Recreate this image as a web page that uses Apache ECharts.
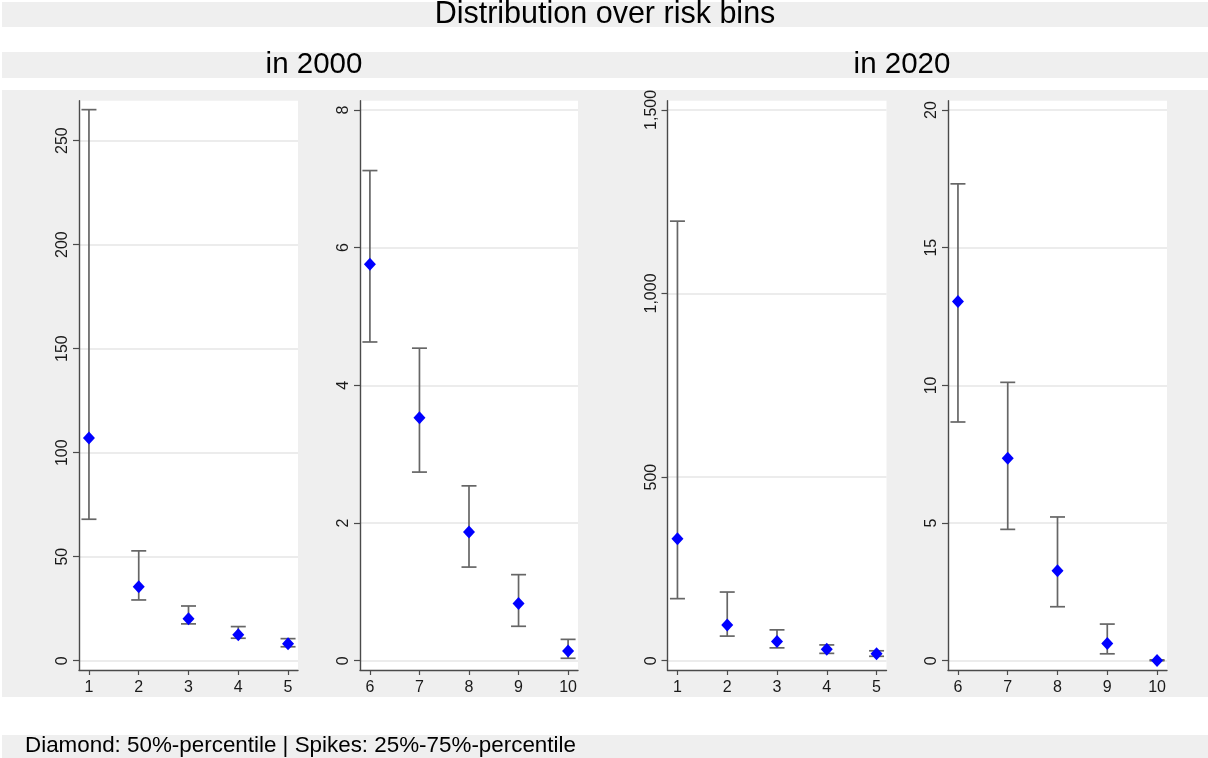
<!DOCTYPE html>
<html>
<head>
<meta charset="utf-8">
<title>Distribution over risk bins</title>
<script src="https://cdn.jsdelivr.net/npm/echarts@6/dist/echarts.min.js"></script>
<style>
  html, body { margin: 0; padding: 0; background: #ffffff; }
  #chart { width: 1208px; height: 758px; }
</style>
</head>
<body>
<div id="chart"></div>
<script>
// Risk bins, split into two groups of five per year
const binsLow = [1, 2, 3, 4, 5];
const binsHigh = [6, 7, 8, 9, 10];

// 2000: median and interquartile range per risk bin (bins 1..10)
const p50_2000 = [107.0, 35.6, 20.2, 12.5, 8.2, 5.76, 3.53, 1.87, 0.83, 0.14];
const p25_2000 = [68.0, 29.2, 17.7, 10.8, 6.7, 4.63, 2.74, 1.36, 0.50, 0.035];
const p75_2000 = [264.9, 52.8, 26.3, 16.4, 10.6, 7.12, 4.54, 2.54, 1.25, 0.31];

// 2020: median and interquartile range per risk bin (bins 1..10)
const p50_2020 = [332, 97, 52, 31, 19, 13.05, 7.35, 3.27, 0.62, 0.01];
const p25_2020 = [169, 67, 35, 20, 12, 8.67, 4.77, 1.96, 0.25, 0.0];
const p75_2020 = [1197, 187, 84, 43, 27, 17.32, 10.11, 5.22, 1.33, 0.03];

// Y tick values of each panel
const yTicks2000Low = [0, 50, 100, 150, 200, 250];
const yTicks2000High = [0, 2, 4, 6, 8];
const yTicks2020Low = [0, 500, 1000, 1500];
const yTicks2020High = [0, 5, 10, 15, 20];

const FONT = "Liberation Sans, Arial, Helvetica, sans-serif";
const PANEL_BG = '#efefef';
const TICK_FONT = 16;

// Panel layout: plot area in pixels and axis ranges
const panels = [
  { left: 79,    width: 219, bins: binsLow,  from: 0, p50: p50_2000, p25: p25_2000, p75: p75_2000,
    xMin: 0.8, xMax: 5.2,  yMin: -4.47, yMax: 269.2, yTicks: yTicks2000Low },
  { left: 360,   width: 218, bins: binsHigh, from: 5, p50: p50_2000, p25: p25_2000, p75: p75_2000,
    xMin: 5.8, xMax: 10.2, yMin: -0.135, yMax: 8.135, yTicks: yTicks2000High },
  { left: 667.5, width: 219, bins: binsLow,  from: 0, p50: p50_2020, p25: p25_2020, p75: p75_2020,
    xMin: 0.8, xMax: 5.2,  yMin: -25.3, yMax: 1525, yTicks: yTicks2020Low },
  { left: 948,   width: 219, bins: binsHigh, from: 5, p50: p50_2020, p25: p25_2020, p75: p75_2020,
    xMin: 5.8, xMax: 10.2, yMin: -0.338, yMax: 20.34, yTicks: yTicks2020High }
];
const PLOT_TOP = 100.7;
const PLOT_HEIGHT = 569.3;

const grids = [], xAxes = [], yAxes = [], series = [];

const tickLabelStyle = {
  color: '#1a1a1a',
  fontFamily: FONT,
  fontSize: TICK_FONT
};

panels.forEach((p, i) => {
  grids.push({
    left: p.left, top: PLOT_TOP, width: p.width, height: PLOT_HEIGHT,
    show: true, backgroundColor: '#ffffff', borderWidth: 0,
    containLabel: false, outerBoundsMode: 'none'
  });
  xAxes.push({
    type: 'value', gridIndex: i, min: p.xMin, max: p.xMax,
    axisLine: { show: true, onZero: false, lineStyle: { color: '#4a4a4a', width: 1.4 } },
    axisTick: { show: true, length: 5, customValues: p.bins, lineStyle: { color: '#4a4a4a', width: 1.2 } },
    axisLabel: Object.assign({ show: true, customValues: p.bins, margin: 10 }, tickLabelStyle),
    splitLine: { show: false }
  });
  yAxes.push({
    type: 'value', gridIndex: i, min: p.yMin, max: p.yMax,
    axisLine: { show: true, onZero: false, lineStyle: { color: '#4a4a4a', width: 1.4 } },
    axisTick: { show: true, length: 6, customValues: p.yTicks, lineStyle: { color: '#4a4a4a', width: 1.2 } },
    axisLabel: Object.assign({ show: true, customValues: p.yTicks, rotate: 90, margin: 8,
                 formatter: v => Number(v).toLocaleString('en-US') }, tickLabelStyle),
    splitLine: { show: true, lineStyle: { color: '#e6e6e6', width: 1.5 } }
  });

  const spikes = p.bins.map((b, k) => [b, p.p25[p.from + k], p.p75[p.from + k]]);
  const medians = p.bins.map((b, k) => [b, p.p50[p.from + k]]);

  // 25%-75% spikes with caps
  series.push({
    type: 'custom', xAxisIndex: i, yAxisIndex: i, data: spikes, z: 2,
    renderItem: (params, api) => {
      const x = api.value(0);
      const lo = api.coord([x, api.value(1)]);
      const hi = api.coord([x, api.value(2)]);
      const cap = 7.5;
      const style = { stroke: '#666666', lineWidth: 1.7, fill: null };
      return {
        type: 'group',
        children: [
          { type: 'line', shape: { x1: lo[0], y1: lo[1], x2: hi[0], y2: hi[1] }, style },
          { type: 'line', shape: { x1: lo[0] - cap, y1: lo[1], x2: lo[0] + cap, y2: lo[1] }, style },
          { type: 'line', shape: { x1: hi[0] - cap, y1: hi[1], x2: hi[0] + cap, y2: hi[1] }, style }
        ]
      };
    }
  });
  // Median diamonds
  series.push({
    type: 'scatter', xAxisIndex: i, yAxisIndex: i, data: medians, z: 3,
    symbol: 'diamond', symbolSize: [12, 13], clip: false,
    itemStyle: { color: '#0000ff', opacity: 1 },
    emphasis: { disabled: true }
  });
});

const band = (x, y, w, h) => ({
  type: 'rect', z: -100, silent: true,
  shape: { x, y, width: w, height: h },
  style: { fill: PANEL_BG }
});
const label = (text, x, y, size, align) => ({
  type: 'text', z: 100, silent: true, x, y,
  style: { text, fill: '#000000', font: size + 'px ' + FONT, align: align || 'center', verticalAlign: 'middle' }
});

const chart = echarts.init(document.getElementById('chart'), null, { renderer: 'canvas' });
chart.setOption({
  animation: false,
  backgroundColor: '#ffffff',
  textStyle: { fontFamily: FONT },
  tooltip: { show: false },
  graphic: [
    band(2, 2, 1206, 25),
    band(2, 52, 1206, 26),
    band(2, 90, 1206, 607),
    band(2, 735, 1206, 23),
    label('Distribution over risk bins', 605, 15, 30.5),
    label('in 2000', 314, 65, 29.5),
    label('in 2020', 902, 65, 29.5),
    label('Diamond: 50%-percentile | Spikes: 25%-75%-percentile', 25, 746, 22.4, 'left')
  ],
  grid: grids,
  xAxis: xAxes,
  yAxis: yAxes,
  series: series
});
</script>
</body>
</html>
